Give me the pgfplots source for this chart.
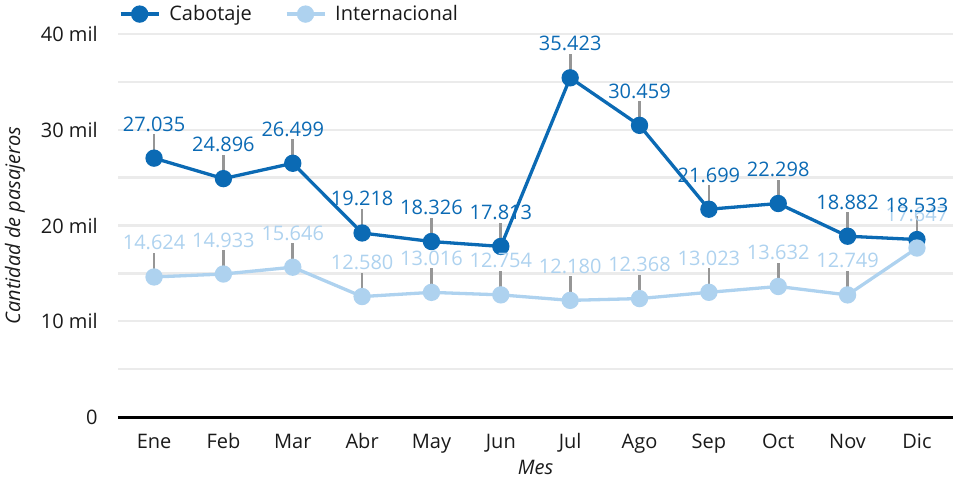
\documentclass[border=0pt]{standalone}
\usepackage{fontspec}
\setmainfont{Open Sans}
\usepackage{pgfplots}
\usepackage{pgfplotstable}
\pgfplotsset{compat=1.18}
\definecolor{cabo}{RGB}{11,106,180}
\definecolor{inter}{RGB}{174,210,239}
\definecolor{lead}{RGB}{150,150,150}
\definecolor{gridc}{RGB}{235,235,235}
\definecolor{txt}{RGB}{26,26,26}
\pgfplotstableread{
x cab int
0 27035 14624
1 24896 14933
2 26499 15646
3 19218 12580
4 18326 13016
5 17813 12754
6 35423 12180
7 30459 12368
8 21699 13023
9 22298 13632
10 18882 12749
11 18533 17647
}\data
\begin{document}
\fontsize{20}{24}\selectfont
\begin{tikzpicture}
\path[use as bounding box] (0,0) rectangle (959pt,480pt);
\begin{axis}[
 at={(118pt,63pt)}, anchor=south west,
 scale only axis, width=835pt, height=383pt,
 clip=false,
 scaled y ticks=false,
 xmin=-0.52, xmax=11.52, ymin=0, ymax=40000,
 xtick={0,...,11},
 xticklabels={Ene,Feb,Mar,Abr,May,Jun,Jul,Ago,Sep,Oct,Nov,Dic},
 ytick={0,10000,20000,30000,40000},
 yticklabels={0,10 mil,20 mil,30 mil,40 mil},
 minor ytick={5000,15000,25000,35000},
 ymajorgrids, yminorgrids,
 major grid style={gridc, line width=2.3pt},
 minor grid style={gridc, line width=2.3pt},
 axis x line=bottom, axis y line=left,
 x axis line style={-, black, line width=3pt},
 y axis line style={draw=none},
 tick style={draw=none},
 xticklabel style={anchor=base, yshift=-29pt, inner sep=0pt, text=txt},
 yticklabel style={anchor=east, xshift=-18pt, inner sep=0pt, text=txt},
 /pgf/number format/assume math mode=true,
 xlabel={Mes},
 ylabel={Cantidad de pasajeros},
 xlabel style={at={(axis description cs:0.5,-0.133)}, anchor=center, inner sep=0pt, font=\itshape, text=txt},
 ylabel style={at={(axis description cs:-0.1234,0.5)}, anchor=center, rotate=0, inner sep=0pt, font=\itshape, text=txt},
 legend columns=2,
 legend cell align=left,
 legend style={at={(axis description cs:0.001,1.052)}, anchor=west, draw=none, fill=none,
   inner sep=0pt, text=txt, nodes={inner sep=0pt},
   /tikz/every odd column/.append style={column sep=9pt},
   /tikz/every even column/.append style={column sep=33pt}},
 legend image code/.code={\draw[mark repeat=2,mark phase=2,#1] plot coordinates {(0pt,0pt) (19pt,0pt) (38pt,0pt)};},
]
\addplot[forget plot, only marks, mark=none, error bars/.cd, y dir=plus, y fixed=2500, error mark=none, error bar style={lead, line width=2.7pt}] table[x=x,y=int]{\data};
\addplot[forget plot, only marks, mark=none, error bars/.cd, y dir=plus, y fixed=2500, error mark=none, error bar style={lead, line width=2.7pt}] table[x=x,y=cab]{\data};
\addplot[cabo, line width=3.3pt, mark=*, mark size=7pt, mark options={solid, fill=cabo, draw=none}] table[x=x,y=cab]{\data};
\addlegendentry{Cabotaje}
\addplot[inter, line width=3.3pt, mark=*, mark size=7pt, mark options={solid, fill=inter, draw=none}] table[x=x,y=int]{\data};
\addlegendentry{Internacional}
\addplot[forget plot, draw=none, mark=none, nodes near coords={\pgfmathprintnumber[fixed, precision=0, 1000 sep={.}]{\pgfplotspointmeta}}, every node near coord/.append style={text=inter, anchor=base, yshift=27pt, inner sep=0pt}] table[x=x,y=int]{\data};
\addplot[forget plot, draw=none, mark=none, nodes near coords={\pgfmathprintnumber[fixed, precision=0, 1000 sep={.}]{\pgfplotspointmeta}}, every node near coord/.append style={text=cabo, anchor=base, yshift=27pt, inner sep=0pt}] table[x=x,y=cab]{\data};
\end{axis}
\end{tikzpicture}
\end{document}
